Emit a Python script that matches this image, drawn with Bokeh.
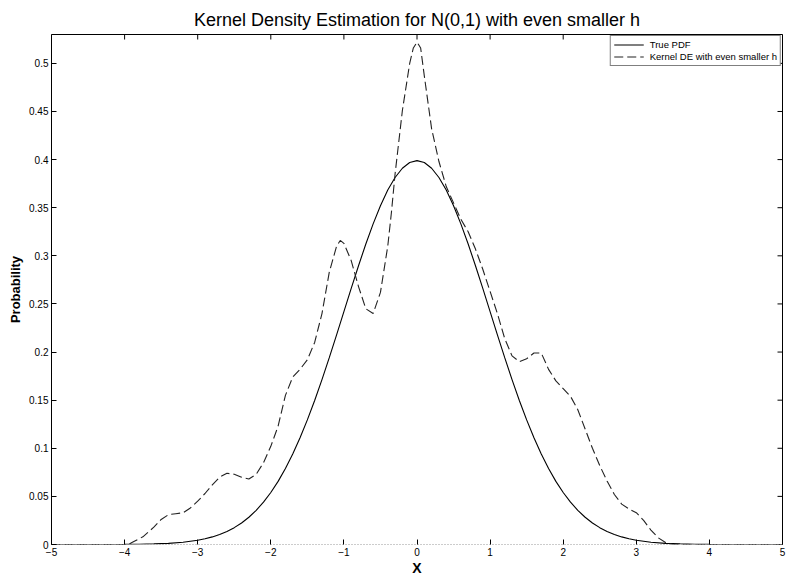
import math
from bokeh.plotting import figure
from bokeh.models import LinearAxis, FixedTicker, Range1d, Legend, LegendItem
from bokeh.embed import file_html
from bokeh.resources import INLINE

# True PDF of N(0,1)
pdf_x = [-5.0, -4.0, -3.8, -3.6, -3.4, -3.2, -3.0, -2.9, -2.8, -2.7, -2.6, -2.5, -2.4, -2.3, -2.2, -2.1,
         -2.0, -1.9, -1.8, -1.7, -1.6, -1.5, -1.4, -1.3, -1.2, -1.1, -1.0, -0.9, -0.8, -0.7, -0.6,
         -0.5, -0.4, -0.3, -0.2, -0.1, 0.0, 0.1, 0.2, 0.3, 0.4, 0.5, 0.6, 0.7, 0.8, 0.9, 1.0,
         1.1, 1.2, 1.3, 1.4, 1.5, 1.6, 1.7, 1.8, 1.9, 2.0, 2.1, 2.2, 2.3, 2.4, 2.5, 2.6, 2.7,
         2.8, 2.9, 3.0, 3.2, 3.4, 3.6, 3.8, 4.0, 5.0]
pdf_y = [0.0, 0.0001, 0.0003, 0.0006, 0.0012, 0.0024, 0.0044, 0.0060, 0.0079, 0.0104, 0.0136, 0.0175, 0.0224, 0.0283, 0.0355, 0.0440,
         0.0540, 0.0656, 0.0790, 0.0940, 0.1109, 0.1295, 0.1497, 0.1714, 0.1942, 0.2179, 0.2420, 0.2661, 0.2897, 0.3123, 0.3332,
         0.3521, 0.3683, 0.3814, 0.3910, 0.3970, 0.3989, 0.3970, 0.3910, 0.3814, 0.3683, 0.3521, 0.3332, 0.3123, 0.2897, 0.2661, 0.2420,
         0.2179, 0.1942, 0.1714, 0.1497, 0.1295, 0.1109, 0.0940, 0.0790, 0.0656, 0.0540, 0.0440, 0.0355, 0.0283, 0.0224, 0.0175, 0.0136, 0.0104,
         0.0079, 0.0060, 0.0044, 0.0024, 0.0012, 0.0006, 0.0003, 0.0001, 0.0]

# Kernel density estimate (even smaller h)
kde_x = [-5.0, -3.95, -3.9, -3.75, -3.6, -3.5, -3.4, -3.3, -3.2, -3.1, -3.0, -2.9, -2.8, -2.7,
         -2.6, -2.5, -2.4, -2.3, -2.2, -2.1, -2.0, -1.9, -1.8, -1.7, -1.6, -1.5, -1.4, -1.3,
         -1.2, -1.1, -1.05, -1.0, -0.9, -0.8, -0.7, -0.6, -0.5, -0.4, -0.35, -0.3, -0.2, -0.1,
         -0.05, 0.0, 0.05, 0.1, 0.2, 0.3, 0.4, 0.5, 0.6, 0.7, 0.8, 0.9, 1.0, 1.1, 1.2, 1.3, 1.4,
         1.5, 1.6, 1.7, 1.8, 1.9, 2.0, 2.1, 2.2, 2.3, 2.4, 2.5, 2.6, 2.7, 2.8, 2.9, 3.0,
         3.1, 3.2, 3.3, 3.4, 3.5, 5.0]
kde_y = [0.0, 0.0, 0.002, 0.008, 0.018, 0.026, 0.031, 0.032, 0.033, 0.038, 0.045, 0.053, 0.062, 0.070,
         0.074, 0.073, 0.070, 0.068, 0.073, 0.085, 0.102, 0.123, 0.155, 0.174, 0.182, 0.192, 0.210, 0.240,
         0.283, 0.310, 0.316, 0.313, 0.295, 0.268, 0.245, 0.240, 0.262, 0.310, 0.345, 0.385, 0.451, 0.500,
         0.516, 0.522, 0.516, 0.487, 0.432, 0.398, 0.372, 0.355, 0.338, 0.325, 0.307, 0.286, 0.263, 0.240, 0.214, 0.196, 0.190,
         0.193, 0.199, 0.199, 0.182, 0.170, 0.162, 0.154, 0.140, 0.120, 0.100, 0.082, 0.066, 0.052, 0.042, 0.037, 0.033,
         0.025, 0.015, 0.007, 0.002, 0.0, 0.0]

x_ticks = [-5, -4, -3, -2, -1, 0, 1, 2, 3, 4, 5]
y_ticks = [0, 0.05, 0.1, 0.15, 0.2, 0.25, 0.3, 0.35, 0.4, 0.45, 0.5]
x_lim = (-5, 5)
y_lim = (0, 0.53)

FONT = "Liberation Sans"

p = figure(width=788, height=578, output_backend="svg", toolbar_location=None,
           x_range=Range1d(*x_lim), y_range=Range1d(*y_lim),
           x_axis_location=None, y_axis_location=None,
           min_border_left=51, min_border_right=6, min_border_top=34, min_border_bottom=31)
p.outline_line_color = None
p.xgrid.visible = False
p.ygrid.visible = False
p.background_fill_color = "white"
p.border_fill_color = "white"

p.title.text = "Kernel Density Estimation for N(0,1) with even smaller h"
p.title.text_font = FONT
p.title.text_font_size = "18px"
p.title.text_font_style = "normal"
p.title.text_color = "black"
p.title.align = "center"
p.title.offset = 6
p.title.standoff = 10

def style_axis(ax, color="black", dash="solid"):
    ax.major_tick_in = 5
    ax.major_tick_out = 0
    ax.minor_tick_in = 0
    ax.minor_tick_out = 0
    ax.axis_line_color = color
    ax.axis_line_dash = dash
    ax.major_tick_line_color = "black"
    ax.major_label_text_font = FONT
    ax.major_label_text_font_size = "10px"
    ax.major_label_text_color = "black"

xb = LinearAxis(ticker=FixedTicker(ticks=x_ticks), axis_label="X")
style_axis(xb, color="#999999", dash="1 2")
xb.major_label_standoff = 3
xb.axis_label_text_font = FONT
xb.axis_label_text_font_size = "14px"
xb.axis_label_text_font_style = "bold"
xb.axis_label_text_color = "black"
xb.axis_label_standoff = 1
p.add_layout(xb, "below")

yl = LinearAxis(ticker=FixedTicker(ticks=y_ticks), axis_label="Probability")
style_axis(yl)
yl.major_label_standoff = 3
yl.major_label_overrides = {0: "0"}
yl.axis_label_text_font = FONT
yl.axis_label_text_font_size = "13px"
yl.axis_label_text_font_style = "bold"
yl.axis_label_text_color = "black"
yl.axis_label_standoff = 3
p.add_layout(yl, "left")

# Top and right box lines (no labels); their inward ticks drawn as dash markers
xt = LinearAxis(ticker=FixedTicker(ticks=[]))
style_axis(xt)
xt.major_label_standoff = 0
p.add_layout(xt, "above")

yr = LinearAxis(ticker=FixedTicker(ticks=[]))
style_axis(yr)
yr.major_label_standoff = 0
p.add_layout(yr, "right")

p.scatter(x_ticks, [y_lim[1]] * len(x_ticks), marker="dash", size=10, angle=math.pi / 2,
          line_color="black", line_width=1)
p.scatter([x_lim[1]] * len(y_ticks), y_ticks, marker="dash", size=10,
          line_color="black", line_width=1)

r_pdf = p.line(pdf_x, pdf_y, line_color="black", line_width=1.1)
r_kde = p.line(kde_x, kde_y, line_color="#222222", line_width=1.1, line_dash="9 4")

legend = Legend(items=[LegendItem(label="True PDF", renderers=[r_pdf]),
                       LegendItem(label="Kernel DE with even smaller h", renderers=[r_kde])],
                location="top_right")
legend.label_text_font = FONT
legend.label_text_font_size = "9.5px"
legend.label_text_color = "black"
legend.label_height = 9
legend.glyph_height = 9
legend.glyph_width = 30
legend.spacing = 1
legend.padding = 3
legend.margin = 1
legend.label_standoff = 6
legend.border_line_color = "black"
legend.border_line_width = 1
legend.background_fill_alpha = 1.0
p.add_layout(legend)

open("out.html", "w").write(file_html(p, INLINE))
